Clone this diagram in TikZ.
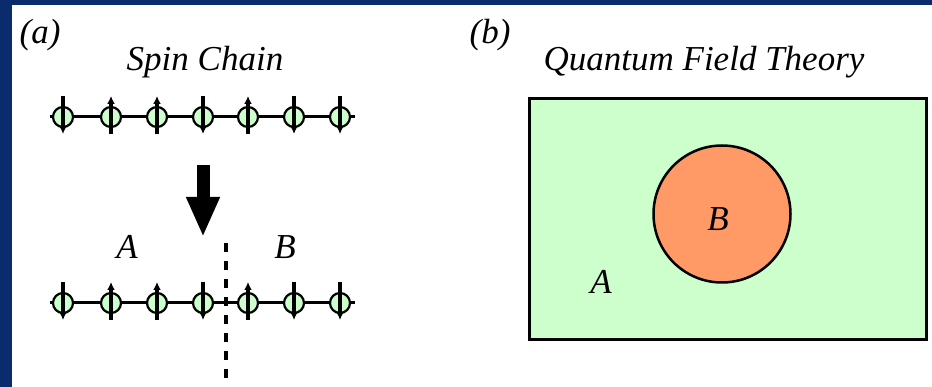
\documentclass[tikz,border=0pt]{standalone}
\usepackage{fontspec}
\setmainfont{Liberation Serif}
\usetikzlibrary{arrows.meta,calc}
\definecolor{navy}{HTML}{0B2C6C}
\definecolor{palegreen}{HTML}{CCFFCC}
\definecolor{salmon}{HTML}{FF9966}
\tikzset{
  lbl/.style={font=\fontsize{35}{40}\selectfont\itshape,inner sep=0pt},
  site/.style={circle,draw=black,line width=2.2pt,fill=palegreen,minimum size=20pt,inner sep=0pt},
  bond/.style={line width=3pt},
  spin/.style={line width=3.4pt,-{Latex[length=8pt,width=8pt]}},
  cut/.style={line width=3.4pt,dash pattern=on 9pt off 9pt},
  bigarr/.style={line width=13pt,-{Triangle[length=40pt,width=31pt]}},
}

\begin{document}
\begin{tikzpicture}[x=1pt,y=-1pt]
  \useasboundingbox (0,0) rectangle (932,387);
  \fill[navy] (0,0) rectangle (932,5);
  \fill[navy] (0,0) rectangle (12,387);

  % (a) spin chain, before and after the cut
  \node[lbl] (alabel) at (40,35) {(a)};
  \node[lbl] (chaintitle) at (205,62) {Spin Chain};
  \coordinate (topleft) at (50,117);
  \coordinate (topright) at (355,117);
  \draw[bond] (topleft) -- (topright);
  \foreach \i/\x/\s in {1/63/-1,2/111/1,3/157/1,4/203/-1,5/248/1,6/294/-1,7/340/-1}
  {
    \node[site] (t\i) at (\x,117) {};
    \ifnum\s>0
      \draw[spin] ($(t\i)+(0,17)$) -- ($(t\i)+(0,-21)$);
    \else
      \draw[spin] ($(t\i)+(0,-21)$) -- ($(t\i)+(0,17)$);
    \fi
  }

  \coordinate (bigtail) at (203,165);
  \coordinate (bigtip) at (203,237);
  \draw[bigarr] (bigtail) -- (bigtip);

  \node[lbl] (partA) at (127,247) {A};
  \node[lbl] (partB) at (285,247) {B};
  \coordinate (botleft) at (50,303);
  \coordinate (botright) at (355,303);
  \draw[bond] (botleft) -- (botright);
  \foreach \i/\x/\s in {1/63/-1,2/111/1,3/157/1,4/203/-1,5/248/1,6/294/-1,7/340/-1}
  {
    \node[site] (b\i) at (\x,303) {};
    \ifnum\s>0
      \draw[spin] ($(b\i)+(0,17)$) -- ($(b\i)+(0,-21)$);
    \else
      \draw[spin] ($(b\i)+(0,-21)$) -- ($(b\i)+(0,17)$);
    \fi
  }
  \coordinate (cuttop) at (226,243);
  \coordinate (cutbot) at (226,387);
  \draw[cut] (cuttop) -- (cutbot);

  % (b) field theory region
  \node[lbl] (blabel) at (490,35) {(b)};
  \node[lbl] (qfttitle) at (704,62) {Quantum Field Theory};
  \node[draw=black,line width=3pt,fill=palegreen,minimum width=397pt,minimum height=241pt,inner sep=0pt]
    (field) at (727.5,219.5) {};
  \node[circle,draw=black,line width=2.5pt,fill=salmon,minimum size=137pt,inner sep=0pt]
    (regionB) at (722,214) {};
  \node[lbl] (fieldB) at (718,219) {B};
  \node[lbl] (fieldA) at (601,282) {A};
\end{tikzpicture}
\end{document}
